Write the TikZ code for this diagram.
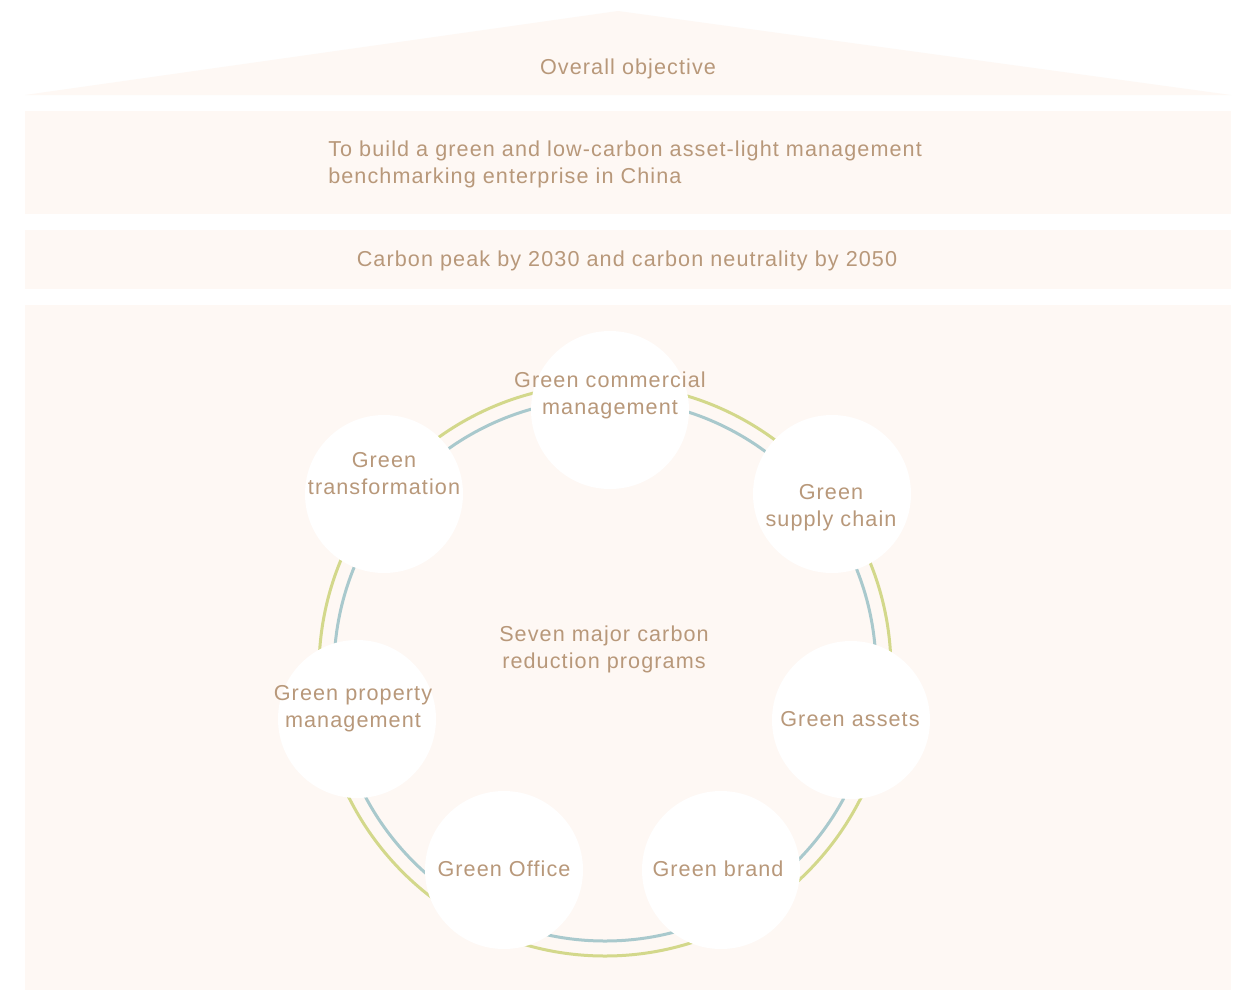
\documentclass[tikz,border=0pt]{standalone}
\usepackage{fontspec}
\setmainfont{Liberation Sans}[LetterSpace=5]
\definecolor{bgc}{HTML}{FEF8F4}
\definecolor{txtc}{HTML}{B8987A}
\definecolor{ringo}{HTML}{D3D88B}
\definecolor{ringi}{HTML}{A9C9CD}
\begin{document}
\begin{tikzpicture}[x=0.75pt,y=-0.75pt,
  txt/.style={text=txtc,font=\fontsize{16.2}{20.25}\selectfont,inner sep=0pt,align=center},
  band/.style={fill=bgc,draw=none},
  prog/.style={circle,fill=white,draw=none,minimum size=118.5pt,inner sep=0pt},
  outerring/.style={draw=ringo,line width=2.25pt},
  innerring/.style={draw=ringi,line width=2.25pt}]
\useasboundingbox (0,0) rectangle (1240,990);
\fill[white] (0,0) rectangle (1240,990);
% roof and bands
\fill[band] (25,95) -- (618,11) -- (1231,95) -- cycle;
\fill[band] (25,111) rectangle (1231,214);
\fill[band] (25,230) rectangle (1231,289);
\fill[band] (25,305) rectangle (1231,990);
\node[txt] (obj) at (628,69) {Overall objective};
\node[txt,anchor=west,align=left] (goal) at (328,164) {To build a green and low-carbon asset-light management\\benchmarking enterprise in China};
\node[txt] (peak) at (627,261) {Carbon peak by 2030 and carbon neutrality by 2050};
% rings
\coordinate (ctr) at (605,670);
\draw[outerring] (ctr) circle[radius=214.5pt];
\draw[innerring] (ctr) circle[radius=203.25pt];
% program circles
\node[prog] (c1) at (610,410) {};
\node[prog] (c2) at (832,494) {};
\node[prog] (c3) at (851,720) {};
\node[prog] (c4) at (721,870) {};
\node[prog] (c5) at (504,870) {};
\node[prog] (c6) at (357,719) {};
\node[prog] (c7) at (384,494) {};
% labels
\node[txt] (l1) at (610,395) {Green commercial\\management};
\node[txt] (l2) at (831,508) {Green\\supply chain};
\node[txt] (l3) at (850,719) {Green assets};
\node[txt] (l4) at (718,869) {Green brand};
\node[txt] (l5) at (504,869) {Green Office};
\node[txt] (l6) at (353,709) {Green property\\management};
\node[txt] (l7) at (384,474) {Green\\transformation};
\node[txt] (mid) at (604,649) {Seven major carbon\\reduction programs};
\end{tikzpicture}
\end{document}
